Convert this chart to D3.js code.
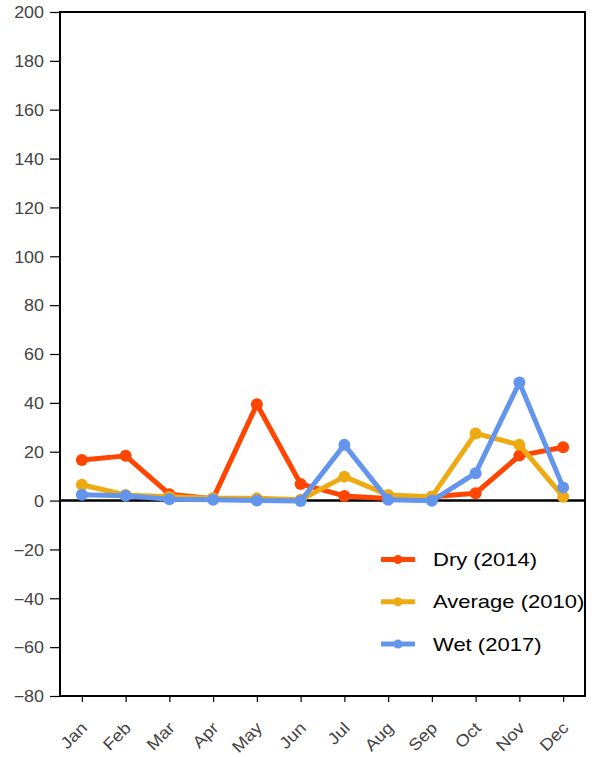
<!DOCTYPE html>
<html>
<head>
<meta charset="utf-8">
<script src="https://cdn.jsdelivr.net/npm/d3@7"></script>
<style>
  html, body { margin: 0; padding: 0; background: #fff; }
  svg { display: block; }
  text { font-family: "Liberation Sans", Arial, Helvetica, sans-serif; }
</style>
</head>
<body>
<svg id="chart" width="594" height="757"></svg>
<script>
const months = ["Jan","Feb","Mar","Apr","May","Jun","Jul","Aug","Sep","Oct","Nov","Dec"];
const dryValues = [16.6, 18.3, 2.6, 0.8, 39.4, 6.8, 1.9, 0.8, 1.6, 3.0, 18.4, 21.8];
const averageValues = [6.5, 2.3, 1.6, 1.0, 0.9, 0.3, 9.8, 2.3, 1.6, 27.5, 22.8, 1.6];
const wetValues = [2.4, 2.0, 0.5, 0.3, 0.0, -0.2, 22.8, 0.3, -0.1, 11.2, 48.3, 5.4];
const seriesNames = ["Dry (2014)", "Average (2010)", "Wet (2017)"];
const seriesColors = ["#FF4500", "#EEAA13", "#6495ED"];
const yTicks = [-80, -60, -40, -20, 0, 20, 40, 60, 80, 100, 120, 140, 160, 180, 200];

const series = [dryValues, averageValues, wetValues].map((vals, i) => ({
  name: seriesNames[i], color: seriesColors[i],
  points: vals.map((v, j) => ({ m: months[j], v }))
}));

const svg = d3.select("#chart");
const L = 60, R = 585, T = 12, B = 696;
const SX = 1.12;

const x = d3.scalePoint().domain(months).range([L, R]).padding(0.5);
const y = d3.scaleLinear().domain([-80, 200]).range([B, T]);

// Y axis
const yAxis = svg.append("g").attr("transform", `translate(${L},0)`)
  .call(d3.axisLeft(y).tickValues(yTicks).tickSize(10).tickPadding(6).tickFormat(d3.format("d")));
yAxis.select(".domain").remove();
yAxis.selectAll(".tick line").attr("stroke", "#000").attr("stroke-width", 1.2);
yAxis.selectAll(".tick text")
  .attr("fill", "#444").attr("font-size", 16)
  .attr("x", -16 / SX).attr("dy", "0.36em")
  .attr("transform", `scale(${SX},1)`);

// X axis
const xAxis = svg.append("g").attr("transform", `translate(0,${B})`)
  .call(d3.axisBottom(x).tickSize(6));
xAxis.select(".domain").remove();
xAxis.selectAll(".tick line").attr("stroke", "#000").attr("stroke-width", 1.2);
xAxis.selectAll(".tick text")
  .attr("fill", "#444").attr("font-size", 16.5)
  .attr("x", 0).attr("y", 0).attr("dy", 0)
  .attr("text-anchor", "end")
  .attr("transform", `translate(6,33) rotate(-45) scale(${SX},1)`);

// Zero line
svg.append("line")
  .attr("x1", L).attr("x2", R).attr("y1", y(0)).attr("y2", y(0))
  .attr("stroke", "#000").attr("stroke-width", 2.5);

// Lines & points
const line = d3.line().x(d => x(d.m)).y(d => y(d.v));
series.forEach(s => {
  const g = svg.append("g");
  g.append("path").datum(s.points)
    .attr("d", line).attr("fill", "none")
    .attr("stroke", s.color).attr("stroke-width", 5)
    .attr("stroke-linejoin", "round");
  g.selectAll("circle").data(s.points).join("circle")
    .attr("cx", d => x(d.m)).attr("cy", d => y(d.v)).attr("r", 6)
    .attr("fill", s.color);
});

// Frame
svg.append("rect")
  .attr("x", L).attr("y", T).attr("width", R - L).attr("height", B - T)
  .attr("fill", "none").attr("stroke", "#000").attr("stroke-width", 2);

// Legend
const legend = svg.append("g");
series.forEach((s, i) => {
  const ly = 559.5 + i * 42.3;
  legend.append("line").attr("x1", 381).attr("x2", 415).attr("y1", ly).attr("y2", ly)
    .attr("stroke", s.color).attr("stroke-width", 5);
  legend.append("circle").attr("cx", 398).attr("cy", ly).attr("r", 4.5).attr("fill", s.color);
  legend.append("text")
    .attr("transform", `translate(433,${ly}) scale(1.19,1)`)
    .attr("dy", "0.35em").attr("font-size", 18.5).attr("fill", "#000")
    .text(s.name);
});
</script>
</body>
</html>
